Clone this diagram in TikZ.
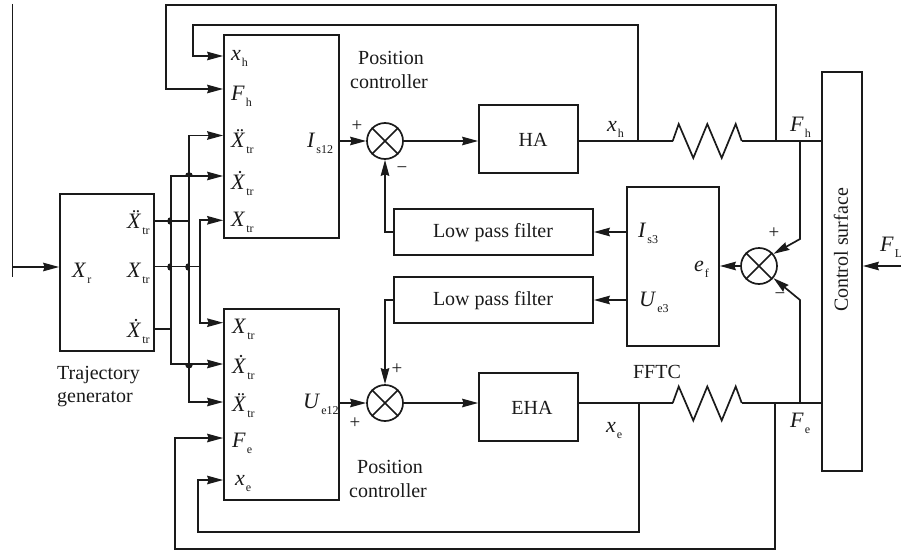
\documentclass[tikz,border=0pt]{standalone}
\usepackage{fontspec}
\setmainfont{Liberation Serif}
\usetikzlibrary{arrows.meta}
\definecolor{ink}{HTML}{1A1A1A}
\newcommand{\lab}[2]{\fontsize{22}{22}\selectfont\textit{#1}\kern1pt\raisebox{-6.5pt}{\fontsize{12}{12}\selectfont #2}}
\newcommand{\hopL}[1]{\fill[ink,shift={(#1)}] (0,-4) .. controls (-5.5,-4) and (-5.5,4) .. (0,4) -- cycle;}
\newcommand{\hopU}[1]{\fill[ink,shift={(#1)}] (-4,0) .. controls (-4,-5.5) and (4,-5.5) .. (4,0) -- cycle;}
\newcommand{\hopD}[1]{\fill[ink,shift={(#1)}] (-4,0) .. controls (-4,5.5) and (4,5.5) .. (4,0) -- cycle;}
\tikzset{
  x=1pt,y=-1pt,
  line/.style={draw=ink,line width=1.7pt,line join=miter},
  arr/.style={line,-{Stealth[length=16pt,width=8.5pt,inset=1.5pt]}},
  blockbox/.style={draw=ink,line width=1.7pt,rectangle,inner sep=0pt,fill=none,font=\fontsize{20}{20}\selectfont,text=ink},
  summer/.style={draw=ink,line width=1.7pt,circle,inner sep=0pt,minimum size=36pt},
  port/.style={anchor=base west,inner sep=0pt,text=ink},
  txt/.style={inner sep=0pt,text=ink,font=\fontsize{20}{20}\selectfont},
  sign/.style={inner sep=0pt,text=ink,font=\fontsize{19}{19}\selectfont},
}
\begin{document}
\begin{tikzpicture}
\useasboundingbox (0,0) rectangle (901,551);
% blocks
\node[blockbox,minimum width=94pt,minimum height=157pt] (tg) at (107,272.5) {};
\node[blockbox,minimum width=115pt,minimum height=203pt] (pc1) at (281.5,136.5) {};
\node[blockbox,minimum width=115pt,minimum height=191pt] (pc2) at (281.5,404.5) {};
\node[blockbox,minimum width=99pt,minimum height=68pt] (ha) at (528.5,139) {};
\node[txt] (halabel) at (533,139.5) {HA};
\node[blockbox,minimum width=99pt,minimum height=68pt] (eha) at (528.5,407) {};
\node[txt] (ehalabel) at (532,407.5) {EHA};
\node[blockbox,minimum width=199pt,minimum height=46pt] (lp1) at (493.5,232) {};
\node[txt] (lp1label) at (493,233) {Low pass filter};
\node[blockbox,minimum width=199pt,minimum height=46pt] (lp2) at (493.5,300) {};
\node[txt] (lp2label) at (493,301) {Low pass filter};
\node[blockbox,minimum width=92pt,minimum height=159pt] (est) at (673,266.5) {};
\node[blockbox,minimum width=40pt,minimum height=399pt] (cs) at (842,271.5) {};
\node[txt,rotate=90] (cslabel) at (841,250) {Control surface};
% summers
\node[summer] (s1) at (385,141) {};
\node[summer] (s2) at (385,403) {};
\node[summer] (s3) at (759,266) {};
\foreach \s in {s1,s2,s3}{
  \draw[line] (\s.45) -- (\s.225);
  \draw[line] (\s.135) -- (\s.-45);
}
% coordinates
\coordinate (in0) at (12,267);
\coordinate (inT) at (12,4);
\coordinate (inB) at (12,277);
\coordinate (jxh) at (638,141);
\coordinate (jFh) at (776,141);
\coordinate (jFh2) at (800,141);
\coordinate (jxe) at (639,403);
\coordinate (jFe) at (775,403);
\coordinate (jFe2) at (800,403);
\coordinate (bendA) at (800,239);
\coordinate (bendB) at (800,300);
\coordinate (fl) at (901,266);
% spring nodes
\coordinate (k1a) at (672.7,141);
\coordinate (k1b) at (741.7,141);
\coordinate (k2a) at (672.7,403);
\coordinate (k2b) at (741.7,403);
% trajectory rails
\coordinate (a1) at (171,176);
\coordinate (a2) at (171,364);
\coordinate (a0) at (171,329);
\coordinate (b1) at (189,135.5);
\coordinate (b2) at (189,402);
\coordinate (b0) at (189,220.7);
\coordinate (c1) at (200,220.3);
\coordinate (c2) at (200,322.7);
\coordinate (c0) at (200,266.5);
% input
\draw[draw=ink,line width=1pt] (inT) -- (inB);
\draw[arr] (in0) -- (tg.west |- in0);
% trajectory outputs
\draw[line] (tg.east |- b0) -- (b0);
\draw[line] (tg.east |- c0) -- (c0);
\draw[line] (tg.east |- a0) -- (a0);
\draw[arr] (a1 |- a0) -- (a1) -- (pc1.west |- a1);
\draw[arr] (a2 |- a0) -- (a2) -- (pc2.west |- a2);
\draw[arr] (b0) -- (b1) -- (pc1.west |- b1);
\draw[arr] (b0) -- (b2) -- (pc2.west |- b2);
\draw[arr] (c0) -- (c1) -- (pc1.west |- c1);
\draw[arr] (c0) -- (c2) -- (pc2.west |- c2);
\hopL{171,220.7}
\hopL{171,266.5}
\hopL{189,266.5}
\hopU{189,176}
\hopD{189,364}
% forward path
\draw[arr] (pc1.east |- s1) -- (s1.west);
\draw[arr] (pc2.east |- s2) -- (s2.west);
\draw[arr] (s1.east) -- (ha.west |- s1);
\draw[arr] (s2.east) -- (eha.west |- s2);
\draw[line] (ha.east |- s1) -- (k1a);
\draw[line] (k1a) -- (678.7,124) -- (693.3,158) -- (707.3,124) -- (721.7,158) -- (735.7,124) -- (k1b);
\draw[line] (k1b) -- (cs.west |- k1b);
\draw[line] (eha.east |- s2) -- (k2a);
\draw[line] (k2a) -- (678.7,386.5) -- (693.3,420.5) -- (707.3,386.5) -- (721.7,420.5) -- (735.7,386.5) -- (k2b);
\draw[line] (k2b) -- (cs.west |- k2b);
% feedback
\draw[arr] (jxh) -- (638,25) -- (193,25) -- (193,56) -- (pc1.west |- 0,56);
\draw[arr] (jFh) -- (776,5) -- (166,5) -- (166,89) -- (pc1.west |- 0,89);
\draw[arr] (jxe) -- (639,532) -- (198,532) -- (198,480) -- (pc2.west |- 0,480);
\draw[arr] (jFe) -- (775,549) -- (175,549) -- (175,438) -- (pc2.west |- 0,438);
% force error
\draw[arr] (jFh2) -- (bendA) -- (s3.40);
\draw[arr] (jFe2) -- (bendB) -- (s3.-40);
\draw[arr] (s3.west) -- (est.east |- s3);
\draw[arr] (fl) -- (cs.east |- fl);
\draw[arr] (est.west |- lp1) -- (lp1.east);
\draw[arr] (est.west |- lp2) -- (lp2.east);
\draw[arr] (lp1.west) -- (s1 |- lp1) -- (s1.south);
\draw[arr] (lp2.west) -- (s2 |- lp2) -- (s2.north);
% text
\node[txt,align=center] (pt1) at (391,58) {Position};
\node[txt,align=center] (pt2) at (389,82) {controller};
\node[txt,align=center] (pb1) at (390,467) {Position};
\node[txt,align=center] (pb2) at (388,491) {controller};
\node[txt,anchor=west] (tg1) at (57,375) {Trajectory};
\node[txt,anchor=west] (tg2) at (57,399) {generator};
\node[txt] (fftc) at (657,372) {FFTC};
% ports
\node[port] (l1) at (231,60) {\lab{x}{h}};
\node[port] (l2) at (231,100) {\lab{F}{h}};
\node[port] (l3) at (231,147) {\lab{\"X}{tr}};
\node[port] (l4) at (231,189) {\lab{\.X}{tr}};
\node[port] (l5) at (231,226) {\lab{X}{tr}};
\node[port] (l6) at (307,147) {\lab{I}{s12}};
\node[port] (l7) at (127,228) {\lab{\"X}{tr}};
\node[port] (l8) at (127,277) {\lab{X}{tr}};
\node[port] (l9) at (127,337) {\lab{\.X}{tr}};
\node[port] (l10) at (72,277) {\lab{X}{r}};
\node[port] (l11) at (232,333) {\lab{X}{tr}};
\node[port] (l12) at (232,373) {\lab{\.X}{tr}};
\node[port] (l13) at (232,411) {\lab{\"X}{tr}};
\node[port] (l14) at (232,447) {\lab{F}{e}};
\node[port] (l15) at (235,485) {\lab{x}{e}};
\node[port] (l16) at (303,408) {\lab{U}{e12}};
\node[port] (l17) at (607,131) {\lab{x}{h}};
\node[port] (l18) at (790,131) {\lab{F}{h}};
\node[port] (l19) at (638,237) {\lab{I}{s3}};
\node[port] (l20) at (694,271) {\lab{e}{f}};
\node[port] (l21) at (639,306) {\lab{U}{e3}};
\node[port] (l22) at (880,251) {\lab{F}{L}};
\node[port] (l23) at (606,432) {\lab{x}{e}};
\node[port] (l24) at (790,427) {\lab{F}{e}};
% signs
\node[sign] (g1) at (357,126) {+};
\node[sign] (g2) at (402,170) {−};
\node[sign] (g3) at (397,369) {+};
\node[sign] (g4) at (355,423) {+};
\node[sign] (g5) at (774,233) {+};
\node[sign] (g6) at (780,296) {−};
\end{tikzpicture}
\end{document}
